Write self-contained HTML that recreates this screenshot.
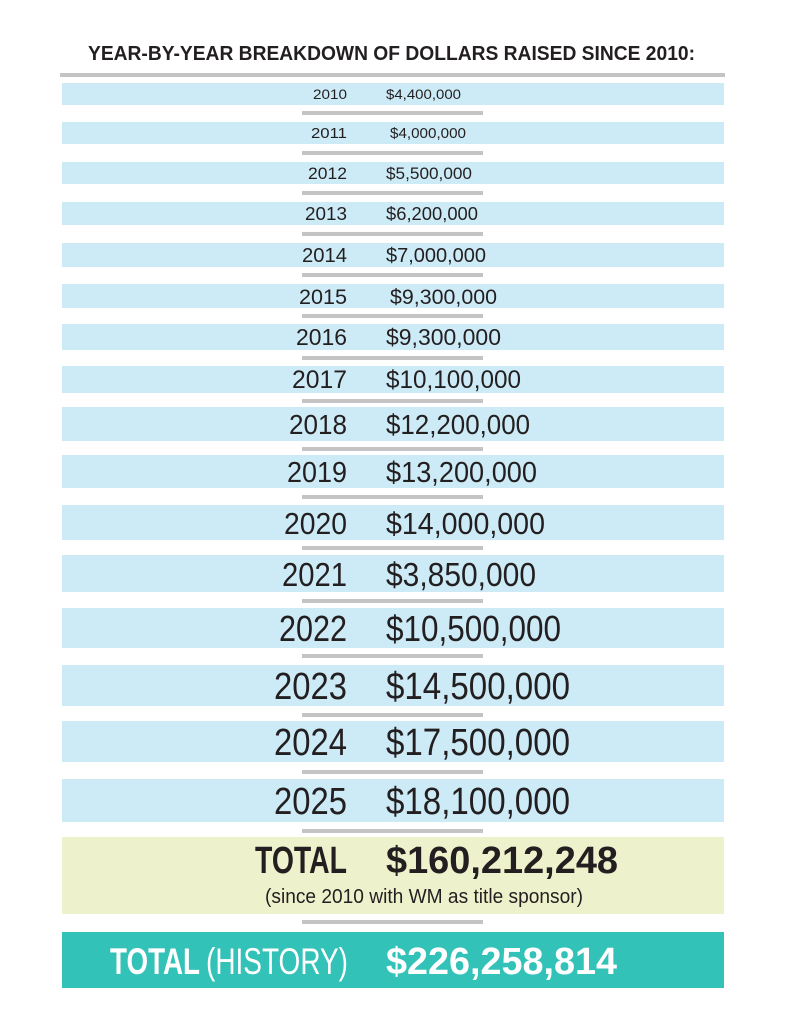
<!DOCTYPE html>
<html><head><meta charset="utf-8"><style>html,body{margin:0;padding:0;background:#fff}svg{display:block}</style></head>
<body>
<svg width="790" height="1024" viewBox="0 0 790 1024" xmlns="http://www.w3.org/2000/svg" font-family="'Liberation Sans', sans-serif" fill="#231f20">
<text x="88" y="60" font-size="20" font-weight="bold" textLength="607" lengthAdjust="spacingAndGlyphs">YEAR-BY-YEAR BREAKDOWN OF DOLLARS RAISED SINCE 2010:</text>
<rect x="60" y="73" width="665" height="4" fill="#c4c4c4"/>
<g fill="#cdebf7">
<rect x="62" y="83" width="662" height="22"/>
<rect x="62" y="122" width="662" height="22"/>
<rect x="62" y="162" width="662" height="22"/>
<rect x="62" y="202" width="662" height="23"/>
<rect x="62" y="243" width="662" height="24"/>
<rect x="62" y="284" width="662" height="24"/>
<rect x="62" y="324" width="662" height="26"/>
<rect x="62" y="366" width="662" height="27"/>
<rect x="62" y="407" width="662" height="34"/>
<rect x="62" y="455" width="662" height="33"/>
<rect x="62" y="505" width="662" height="35"/>
<rect x="62" y="555" width="662" height="37"/>
<rect x="62" y="608" width="662" height="40"/>
<rect x="62" y="665" width="662" height="41"/>
<rect x="62" y="721" width="662" height="41"/>
<rect x="62" y="779" width="662" height="43"/>
</g>
<rect x="62" y="837" width="662" height="77" fill="#eef2cc"/>
<rect x="62" y="932" width="662" height="56" fill="#33c2b8"/>
<g fill="#c4c4c4">
<rect x="302" y="111" width="181" height="4"/>
<rect x="302" y="151" width="181" height="4"/>
<rect x="302" y="191" width="181" height="4"/>
<rect x="302" y="232" width="181" height="4"/>
<rect x="302" y="273" width="181" height="4"/>
<rect x="302" y="314" width="181" height="4"/>
<rect x="302" y="356" width="181" height="4"/>
<rect x="302" y="399" width="181" height="4"/>
<rect x="302" y="447" width="181" height="4"/>
<rect x="302" y="495" width="181" height="4"/>
<rect x="302" y="546" width="181" height="4"/>
<rect x="302" y="599" width="181" height="4"/>
<rect x="302" y="654" width="181" height="4"/>
<rect x="302" y="713" width="181" height="4"/>
<rect x="302" y="770" width="181" height="4"/>
<rect x="302" y="829" width="181" height="4"/>
<rect x="302" y="920" width="181" height="4"/>
</g>
<g>
<text x="313" y="99" font-size="14" textLength="34" lengthAdjust="spacingAndGlyphs">2010</text><text x="386" y="99" font-size="14" textLength="75" lengthAdjust="spacingAndGlyphs">$4,400,000</text>
<text x="311" y="138" font-size="15" textLength="36" lengthAdjust="spacingAndGlyphs">2011</text><text x="390" y="138" font-size="15" textLength="76" lengthAdjust="spacingAndGlyphs">$4,000,000</text>
<text x="308" y="179" font-size="17" textLength="39" lengthAdjust="spacingAndGlyphs">2012</text><text x="386" y="179" font-size="17" textLength="86" lengthAdjust="spacingAndGlyphs">$5,500,000</text>
<text x="305" y="220" font-size="18" textLength="42" lengthAdjust="spacingAndGlyphs">2013</text><text x="386" y="220" font-size="18" textLength="92" lengthAdjust="spacingAndGlyphs">$6,200,000</text>
<text x="302" y="262" font-size="20" textLength="45" lengthAdjust="spacingAndGlyphs">2014</text><text x="386" y="262" font-size="20" textLength="100" lengthAdjust="spacingAndGlyphs">$7,000,000</text>
<text x="299" y="304" font-size="21" textLength="48" lengthAdjust="spacingAndGlyphs">2015</text><text x="390" y="304" font-size="21" textLength="107" lengthAdjust="spacingAndGlyphs">$9,300,000</text>
<text x="296" y="345" font-size="23" textLength="51" lengthAdjust="spacingAndGlyphs">2016</text><text x="386" y="345" font-size="23" textLength="115" lengthAdjust="spacingAndGlyphs">$9,300,000</text>
<text x="292" y="388" font-size="25" textLength="55" lengthAdjust="spacingAndGlyphs">2017</text><text x="386" y="388" font-size="25" textLength="135" lengthAdjust="spacingAndGlyphs">$10,100,000</text>
<text x="289" y="434" font-size="28" textLength="58" lengthAdjust="spacingAndGlyphs">2018</text><text x="386" y="434" font-size="28" textLength="144" lengthAdjust="spacingAndGlyphs">$12,200,000</text>
<text x="287" y="482" font-size="29" textLength="60" lengthAdjust="spacingAndGlyphs">2019</text><text x="386" y="482" font-size="29" textLength="151" lengthAdjust="spacingAndGlyphs">$13,200,000</text>
<text x="284" y="534" font-size="31" textLength="63" lengthAdjust="spacingAndGlyphs">2020</text><text x="386" y="534" font-size="31" textLength="159" lengthAdjust="spacingAndGlyphs">$14,000,000</text>
<text x="282" y="586" font-size="33" textLength="65" lengthAdjust="spacingAndGlyphs">2021</text><text x="386" y="586" font-size="33" textLength="150" lengthAdjust="spacingAndGlyphs">$3,850,000</text>
<text x="279" y="641" font-size="36" textLength="68" lengthAdjust="spacingAndGlyphs">2022</text><text x="386" y="641" font-size="36" textLength="175" lengthAdjust="spacingAndGlyphs">$10,500,000</text>
<text x="274" y="699" font-size="38" textLength="73" lengthAdjust="spacingAndGlyphs">2023</text><text x="386" y="699" font-size="38" textLength="184" lengthAdjust="spacingAndGlyphs">$14,500,000</text>
<text x="274" y="755" font-size="38" textLength="73" lengthAdjust="spacingAndGlyphs">2024</text><text x="386" y="755" font-size="38" textLength="184" lengthAdjust="spacingAndGlyphs">$17,500,000</text>
<text x="274" y="814" font-size="38" textLength="73" lengthAdjust="spacingAndGlyphs">2025</text><text x="386" y="814" font-size="38" textLength="184" lengthAdjust="spacingAndGlyphs">$18,100,000</text>
<text x="255" y="873" font-size="38" font-weight="bold" textLength="92" lengthAdjust="spacingAndGlyphs">TOTAL</text><text x="386" y="873" font-size="38" font-weight="bold" textLength="232" lengthAdjust="spacingAndGlyphs">$160,212,248</text>
<text x="265" y="903" font-size="20" textLength="318" lengthAdjust="spacingAndGlyphs">(since 2010 with WM as title sponsor)</text>
<text x="110" y="974" font-size="37" font-weight="bold" fill="#fff" textLength="90" lengthAdjust="spacingAndGlyphs">TOTAL</text><text x="206" y="974" font-size="37" fill="#fff" textLength="142" lengthAdjust="spacingAndGlyphs">(HISTORY)</text>
<text x="386" y="974" font-size="38" font-weight="bold" fill="#fff" textLength="231" lengthAdjust="spacingAndGlyphs">$226,258,814</text>
</g>
</svg>
</body></html>
